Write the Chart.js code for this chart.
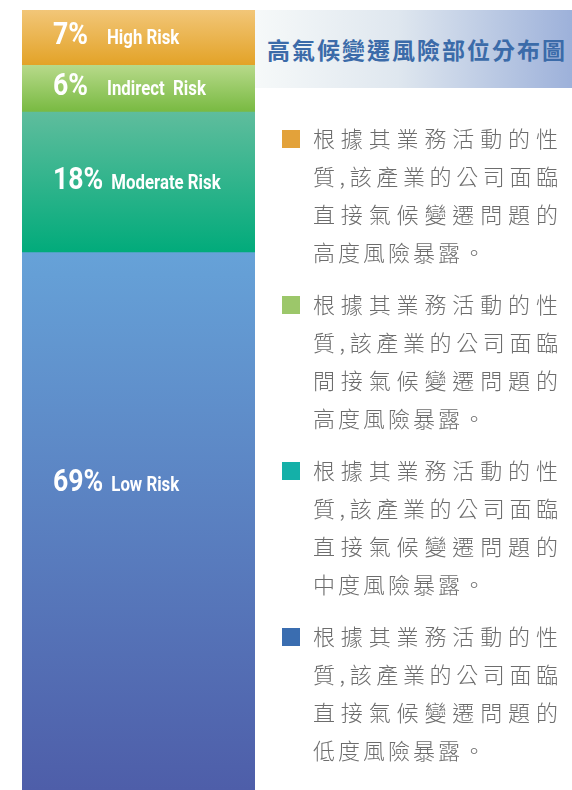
<!DOCTYPE html>
<html>
<head>
<meta charset="utf-8">
<script src="https://cdn.jsdelivr.net/npm/chart.js@4"></script>
<style>
  html, body { margin: 0; padding: 0; background: #fff; }
  #wrap { position: relative; width: 572px; height: 790px; overflow: hidden; }
  #barChartID { position: absolute; left: 0; top: 0; }
  #title {
    position: absolute; left: 255px; top: 10px; width: 317px; height: 78px;
    background: linear-gradient(to right, #f6f9f9 0%, #dfe7ef 45%, #9db1da 100%);
    font-family: "Noto Sans CJK TC", sans-serif; font-weight: bold;
    font-size: 23px; letter-spacing: 2px; color: #3b6ba9;
    line-height: 78px; padding-left: 12px; box-sizing: border-box; white-space: nowrap;
  }
  #legend { position: absolute; left: 282px; top: 118px; width: 290px; }
  .item { position: relative; height: 152px; margin-bottom: 14px; }
  .sq { position: absolute; left: 0; top: 12px; width: 18px; height: 18px; }
  .txt {
    position: absolute; left: 31px; top: 0; width: 245px;
    font-family: "Noto Sans CJK TC", sans-serif; font-weight: 300;
    font-size: 22px; line-height: 38px; color: #6d6d6d;
  }
  .txt div { white-space: nowrap; }
  .txt .full { text-align: justify; text-align-last: justify; }
  .txt .last { letter-spacing: 3px; }
</style>
</head>
<body>
<div id="wrap">
  <canvas id="barChartID" width="572" height="790"></canvas>
  <div id="title"></div>
  <div id="legend"></div>
</div>
<script>
'use strict';

// risk groups, top to bottom
const riskNames = ['High Risk', 'Indirect  Risk', 'Moderate Risk', 'Low Risk'];
const riskShares = [7, 6, 18, 69];
const titleText = '高氣候變遷風險部位分布圖';
const legendLines = [
  ['根據其業務活動的性', '質,該產業的公司面臨', '直接氣候變遷問題的', '高度風險暴露。'],
  ['根據其業務活動的性', '質,該產業的公司面臨', '間接氣候變遷問題的', '高度風險暴露。'],
  ['根據其業務活動的性', '質,該產業的公司面臨', '直接氣候變遷問題的', '中度風險暴露。'],
  ['根據其業務活動的性', '質,該產業的公司面臨', '直接氣候變遷問題的', '低度風險暴露。']
];

// gradient colours for each segment (top, bottom) and legend swatches
const topColors = ['#f2c678', '#b8da8b', '#5fbd9d', '#66a2d8'];
const bottomColors = ['#e3a328', '#79ba42', '#02ab7b', '#4e5ea9'];
const swatchColors = ['#e3a23a', '#9cc76a', '#14b0a8', '#3a6db0'];

document.getElementById('title').textContent = titleText;

let legendPlace = document.getElementById('legend');
for (let i = 0; i < riskNames.length; i++) {
  let item = document.createElement('div');
  item.className = 'item';
  let sq = document.createElement('div');
  sq.className = 'sq';
  sq.style.background = swatchColors[i];
  let txt = document.createElement('div');
  txt.className = 'txt';
  for (let j = 0; j < legendLines[i].length; j++) {
    let line = document.createElement('div');
    line.className = j < legendLines[i].length - 1 ? 'full' : 'last';
    line.textContent = legendLines[i][j];
    txt.appendChild(line);
  }
  item.appendChild(sq);
  item.appendChild(txt);
  legendPlace.appendChild(item);
}

function segmentFill(context) {
  const chart = context.chart;
  const i = context.datasetIndex;
  if (!chart.chartArea) return topColors[i];
  const y = chart.scales.y;
  let start = 0;
  for (let k = 0; k < i; k++) start += riskShares[k];
  const y0 = y.getPixelForValue(start);
  const y1 = y.getPixelForValue(start + riskShares[i]);
  const g = chart.ctx.createLinearGradient(0, y0, 0, y1);
  g.addColorStop(0, topColors[i]);
  g.addColorStop(1, bottomColors[i]);
  return g;
}

// condensed look: draw Roboto bold squeezed horizontally
function narrowText(ctx, text, x, y, size, squeeze) {
  ctx.save();
  ctx.font = 'bold ' + size + 'px Roboto, sans-serif';
  ctx.translate(x, y);
  ctx.scale(squeeze, 1);
  ctx.fillText(text, 0, 0);
  const w = ctx.measureText(text).width * squeeze;
  ctx.restore();
  return w;
}

const labelPlugin = {
  id: 'segmentLabels',
  afterDatasetsDraw(chart) {
    const ctx = chart.ctx;
    ctx.save();
    ctx.fillStyle = '#ffffff';
    ctx.textBaseline = 'alphabetic';
    ctx.textAlign = 'left';
    for (let i = 0; i < riskNames.length; i++) {
      const bar = chart.getDatasetMeta(i).data[0];
      const top = Math.min(bar.y, bar.base);
      const h = Math.abs(bar.base - bar.y);
      const mid = top + Math.min(h / 2 - 4, 228);
      const pctW = narrowText(ctx, riskShares[i] + '%', 53, mid + 11, 31, 0.86);
      narrowText(ctx, riskNames[i], Math.max(107, 53 + pctW + 8), mid + 11, 21, 0.8);
    }
    ctx.restore();
  }
};

const datasets = [];
for (let i = 0; i < riskNames.length; i++) {
  datasets.push({
    label: riskNames[i],
    data: [riskShares[i]],
    backgroundColor: segmentFill,
    borderWidth: 0,
    barPercentage: 1,
    categoryPercentage: 1
  });
}

const config = {
  type: 'bar',
  data: { labels: [''], datasets: datasets },
  options: {
    responsive: false,
    animation: false,
    layout: { padding: { left: 22, right: 317, top: 10, bottom: 0 } },
    plugins: { legend: { display: false }, tooltip: { enabled: false } },
    scales: {
      x: { display: false, stacked: true },
      y: { display: false, stacked: true, min: 0, max: 100, reverse: true }
    }
  },
  plugins: [labelPlugin]
};

const barChart = new Chart(document.getElementById('barChartID'), config);
</script>
</body>
</html>
